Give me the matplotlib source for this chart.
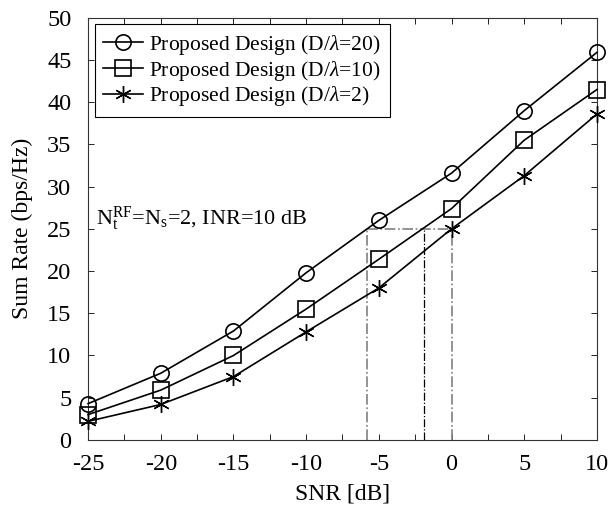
import matplotlib
matplotlib.use("Agg")
import matplotlib.pyplot as plt
import numpy as np

snr = [-25, -20, -15, -10, -5, 0, 5, 10]
rate_d20 = [4.3, 7.9, 12.9, 19.8, 26.0, 31.6, 39.0, 45.9]
rate_d10 = [3.0, 5.9, 10.0, 15.5, 21.4, 27.4, 35.5, 41.5]
rate_d2 = [2.2, 4.2, 7.5, 12.8, 18.0, 25.0, 31.3, 38.6]
labels = [r"Proposed Design (D/$\lambda$=20)",
          r"Proposed Design (D/$\lambda$=10)",
          r"Proposed Design (D/$\lambda$=2)"]
ref_rate = 25
ref_snr_gray = [-5.83, 0]
ref_snr_black = -1.87

plt.rcParams['font.family'] = ['Liberation Serif', 'DejaVu Serif']
plt.rcParams['mathtext.fontset'] = 'custom'
plt.rcParams['mathtext.rm'] = 'Liberation Serif'
plt.rcParams['mathtext.it'] = 'Liberation Serif:italic'
plt.rcParams['axes.unicode_minus'] = False

fig = plt.figure(figsize=(6.16, 5.08), dpi=100)
ax = fig.add_axes([0.143, 0.134, 0.826, 0.831])

star = (6, 2, 0)
ax.plot(snr, rate_d20, '-', color='black', lw=1.2, marker='o', ms=11,
        mfc='none', mec='black', mew=1.2, label=labels[0], clip_on=False, zorder=3)
ax.plot(snr, rate_d10, '-', color='black', lw=1.2, marker='s', ms=11,
        mfc='none', mec='black', mew=1.2, label=labels[1], clip_on=False, zorder=3)
ax.plot(snr, rate_d2, '-', color='black', lw=1.2, marker=star, ms=12,
        mfc='none', mec='black', mew=1.0, label=labels[2], clip_on=False, zorder=3)

gray = '#808080'
ax.plot([ref_snr_gray[0], ref_snr_gray[1]], [ref_rate, ref_rate], '-.', color=gray, lw=1.2)
for xv in ref_snr_gray:
    ax.plot([xv, xv], [0, ref_rate], '-.', color=gray, lw=1.2)
ax.plot([ref_snr_black, ref_snr_black], [0, ref_rate], '-.', color='black', lw=0.9)

ax.set_xlim(-25, 10)
ax.set_ylim(0, 50)
ax.set_xticks(np.arange(-25, 11, 5))
ax.set_xticks(np.arange(-25, 11, 2.5), minor=True)
ax.set_yticks(np.arange(0, 51, 5))
ax.tick_params(which='both', direction='in', top=True, right=True, labelsize=17.5)
ax.tick_params(axis='x', which='major', length=4, width=0.6, pad=10)
ax.tick_params(axis='y', which='major', length=4, width=0.6, pad=12)
ax.tick_params(which='minor', length=4, width=0.6)
for s in ax.spines.values():
    s.set_linewidth(0.8)
    s.set_color('#333333')

ax.set_xlabel('SNR [dB]', fontsize=17, labelpad=6)
ax.set_ylabel('Sum Rate (bps/Hz)', fontsize=17, labelpad=10)

ax.text(-24.45, 25.5, r'N$_\mathrm{t}^\mathrm{RF}$=N$_\mathrm{s}$=2, INR=10 dB', fontsize=16)

leg = ax.legend(loc='upper left', fontsize=15.5, frameon=True, fancybox=False,
                edgecolor='black', framealpha=1, handlelength=1.85,
                borderaxespad=0.3, labelspacing=0.08, borderpad=0.4, handletextpad=0.3)
leg.get_frame().set_linewidth(0.8)

fig.savefig('out.png', dpi=100)
